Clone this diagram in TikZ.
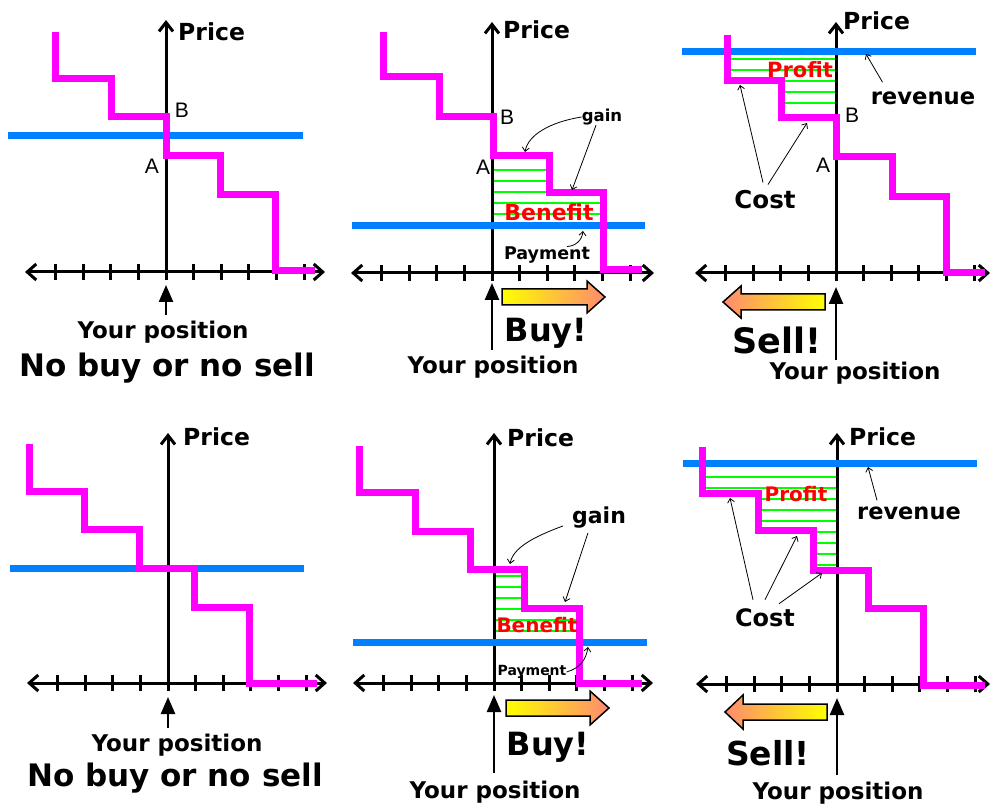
\documentclass[tikz,border=0pt]{standalone}
\usepackage{fontspec}
\setmainfont{DejaVu Sans}
\newfontfamily\arialfont{Liberation Sans}
\usetikzlibrary{arrows.meta}
\definecolor{mag}{HTML}{FF00FF}
\definecolor{lineblue}{HTML}{0080FF}
\definecolor{hgreen}{HTML}{00FF00}
\definecolor{salmon}{HTML}{FF8A70}
\begin{document}
\begin{tikzpicture}[x=1pt,y=-1pt,
  stair/.style={draw=mag,line width=7pt},
  level/.style={draw=lineblue,line width=7pt},
  axis/.style={line width=3pt,{Straight Barb[length=9pt,width=16pt]}-{Straight Barb[length=9pt,width=16pt]}},
  yaxis/.style={line width=3pt,-{Straight Barb[length=9pt,width=14pt]}},
  tick/.style={line width=3pt},
  hatch/.style={draw=hgreen,line width=1.2pt},
  posarrow/.style={line width=2.5pt,-{Triangle[length=17pt,width=14pt]}},
  note/.style={line width=0.8pt,-{Straight Barb[length=4pt,width=7pt]}},
  fat/.style={draw,line width=1.5pt,line join=miter},
  txt/.style={inner sep=0pt,font=\fontsize{#1}{#1}\selectfont\bfseries},
  ab/.style={inner sep=0pt,font=\arialfont\fontsize{21}{21}\selectfont}]
\useasboundingbox (0,0) rectangle (991,810);
% hatching
\foreach \y in {170,181,192} \draw[hatch] (492,\y) -- (549,\y);
\foreach \y in {203,214} \draw[hatch] (492,\y) -- (603,\y);
\foreach \y in {59,70} \draw[hatch] (727,\y) -- (836,\y);
\foreach \y in {81,92,103} \draw[hatch] (781,\y) -- (836,\y);
\foreach \y in {576,587,598,609} \draw[hatch] (494,\y) -- (524,\y);
\foreach \y in {620,631} \draw[hatch] (494,\y) -- (579,\y);
\foreach \y in {477,488} \draw[hatch] (702,\y) -- (837,\y);
\foreach \y in {499,510,521} \draw[hatch] (758,\y) -- (837,\y);
\foreach \y in {532,543,554,565} \draw[hatch] (813,\y) -- (837,\y);
% axes
\foreach \i/\ax/\ay/\ty/\rx/\px/\py in {1/166/272/20/159/178/32, 2/492/273/22/162/503/30,
    3/836/273/22/154/843/21, 4/168/683/433/159/183/437, 5/494/683/433/159/507/438,
    6/837/684/433/153/849/437}{
  \draw[axis] (\ax-141,\ay) -- (\ax+\rx,\ay);
  \draw[yaxis] (\ax,\ay) -- (\ax,\ty);
  \foreach \k in {-4,...,5}
    \draw[tick] (\ax+\k*27.6,\ay-8) -- (\ax+\k*27.6,\ay+8);
  \node[txt=23.5,anchor=west] (price\i) at (\px,\py) {Price};
}
% price levels
\draw[level] (8,136) -- (303,136);
\draw[level] (352,226) -- (645,226);
\draw[level] (682,52) -- (976,52);
\draw[level] (10,568) -- (304,568);
\draw[level] (353,642) -- (647,642);
\draw[level] (683,463) -- (977,463);
% staircases
\draw[stair] (55,32) |- (111,79) |- (166,117) |- (220,156) |- (275,195) |- (315,271);
\draw[stair] (383,32) |- (439,77) |- (493,117) |- (549,156) |- (603,193) |- (642,270);
\draw[stair] (727,35) |- (781,81) |- (836,118) |- (892,157) |- (946,197) |- (985,273);
\draw[stair] (29,444) |- (84,491) |- (139,529) |- (194,568) |- (249,607) |- (317,683);
\draw[stair] (359,446) |- (415,492) |- (470,531) |- (524,569) |- (579,608) |- (642,683);
\draw[stair] (702,447) |- (758,493) |- (813,530) |- (868,570) |- (923,608) |- (985,685);

% panel 1
\node[ab] (b1) at (182,110) {B};
\node[ab] (a1) at (152,166) {A};
\node[txt=23] (you1) at (163,332) {Your position};
\node[txt=31] (none1) at (167,368) {No buy or no sell};
\coordinate (foot1) at (166,315);
\coordinate (pos1) at (166,285);
\draw[posarrow] (foot1) -- (pos1);

% panel 2
\node[ab] (b2) at (507,117) {B};
\node[ab] (a2) at (483,167) {A};
\node[txt=16.5] (gain2) at (602,117) {gain};
\node[txt=22,text=red] (benefit2) at (549,212) {Benefit};
\node[txt=17.5] (pay2) at (547,255) {Payment};
\coordinate (g2a) at (525,152);
\coordinate (g2b) at (572,190);
\coordinate (p2) at (583,231);
\draw[note] (gain2.west) .. controls (550,122) and (528,135) .. (g2a);
\draw[note] ([xshift=-6pt]gain2.south) -- (g2b);
\draw[note] ([xshift=20pt]pay2.north) .. controls (576,246) and (582,240) .. (p2);
\draw[fat,left color=yellow,right color=salmon] (502,289) -- (587,289) -- (587,281)
  -- (605,297) -- (587,313) -- (587,305) -- (502,305) -- cycle;
\node[txt=32] (buy2) at (546,333) {Buy!};
\node[txt=23] (you2) at (493,367) {Your position};
\coordinate (foot2) at (492,350);
\coordinate (pos2) at (492,283);
\draw[posarrow] (foot2) -- (pos2);

% panel 3
\node[ab] (b3) at (852,115) {B};
\node[ab] (a3) at (823,165) {A};
\node[txt=21,text=red] (profit3) at (800,70) {Profit};
\node[txt=22.7] (rev3) at (923,98) {revenue};
\node[txt=24.5] (cost3) at (765,200) {Cost};
\coordinate (r3) at (866,54);
\coordinate (c3a) at (740,85);
\coordinate (c3b) at (807,123);
\draw[note] ([xshift=12pt,yshift=9pt]rev3.north west) -- (r3);
\draw[note] ([xshift=-2pt,yshift=8pt]cost3.north) -- (c3a);
\draw[note] ([xshift=3pt,yshift=6pt]cost3.north) -- (c3b);
\draw[fat,left color=salmon,right color=yellow] (825,294) -- (741,294) -- (741,286)
  -- (723,302) -- (741,318) -- (741,310) -- (825,310) -- cycle;
\node[txt=35] (sell3) at (777,340) {Sell!};
\node[txt=23] (you3) at (855,373) {Your position};
\coordinate (foot3) at (836,360);
\coordinate (pos3) at (836,287);
\draw[posarrow] (foot3) -- (pos3);

% panel 4
\node[txt=23] (you4) at (177,745) {Your position};
\node[txt=31] (none4) at (175,778) {No buy or no sell};
\coordinate (foot4) at (168,728);
\coordinate (pos4) at (168,697);
\draw[posarrow] (foot4) -- (pos4);

% panel 5
\node[txt=22] (gain5) at (599,518) {gain};
\node[txt=20,text=red] (benefit5) at (537,625) {Benefit};
\node[txt=14] (pay5) at (532,672) {Payment};
\coordinate (g5a) at (510,564);
\coordinate (g5b) at (565,602);
\coordinate (p5) at (588,647);
\draw[note] ([xshift=-9pt,yshift=-8pt]gain5.west) .. controls (533,537) and (513,548) .. (g5a);
\draw[note] ([xshift=-11pt,yshift=-4pt]gain5.south) -- (g5b);
\draw[note] (pay5.east) .. controls (580,668) and (586,660) .. (p5);
\draw[fat,left color=yellow,right color=salmon] (506,700) -- (590,700) -- (590,691)
  -- (609,708) -- (590,725) -- (590,716) -- (506,716) -- cycle;
\node[txt=32] (buy5) at (548,747) {Buy!};
\node[txt=23] (you5) at (495,792) {Your position};
\coordinate (foot5) at (494,773);
\coordinate (pos5) at (494,695);
\draw[posarrow] (foot5) -- (pos5);

% panel 6
\node[txt=20,text=red] (profit6) at (796,494) {Profit};
\node[txt=22.5] (rev6) at (909,513) {revenue};
\node[txt=24] (cost6) at (765,618) {Cost};
\coordinate (r6) at (868,467);
\coordinate (c6a) at (730,498);
\coordinate (c6b) at (797,536);
\coordinate (c6c) at (822,573);
\draw[note] ([xshift=20pt,yshift=6pt]rev6.north west) -- (r6);
\draw[note] ([xshift=-12pt,yshift=9pt]cost6.north) -- (c6a);
\draw[note] ([yshift=9pt]cost6.north) -- (c6b);
\draw[note] ([xshift=14pt,yshift=5pt]cost6.north) -- (c6c);
\draw[fat,left color=salmon,right color=yellow] (827,704) -- (743,704) -- (743,695)
  -- (725,712) -- (743,729) -- (743,720) -- (827,720) -- cycle;
\node[txt=33] (sell6) at (768,753) {Sell!};
\node[txt=23] (you6) at (838,793) {Your position};
\coordinate (foot6) at (837,775);
\coordinate (pos6) at (837,698);
\draw[posarrow] (foot6) -- (pos6);
\end{tikzpicture}
\end{document}
